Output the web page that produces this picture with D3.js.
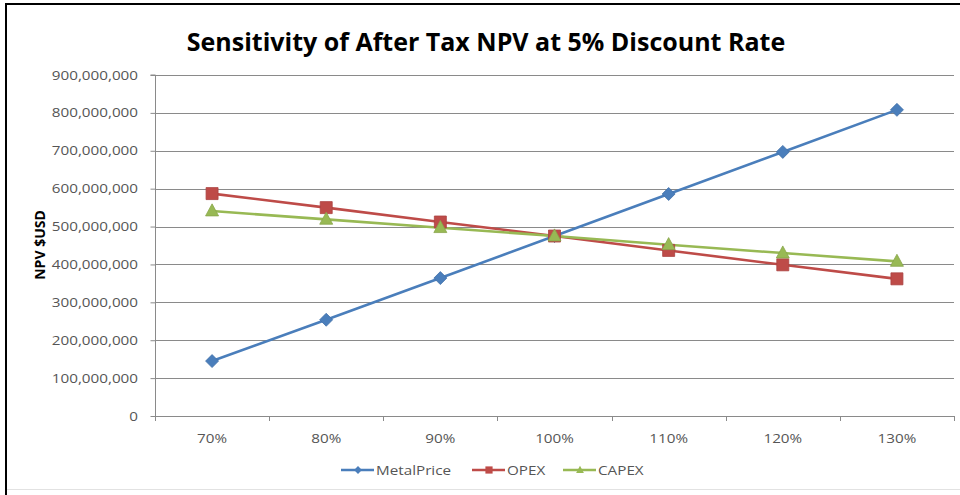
<!DOCTYPE html>
<html><head><meta charset="utf-8">
<script src="https://cdn.jsdelivr.net/npm/d3@7"></script>
<style>body{margin:0;background:#fff}svg{display:block}</style>
</head><body>
<svg id="c" width="960" height="495"></svg>
<script>
const categories = ["70%","80%","90%","100%","110%","120%","130%"];
const metalPrice = [145e6, 254e6, 364e6, 475e6, 586e6, 697e6, 808e6];
const opex = [587e6, 550e6, 512e6, 475e6, 437e6, 399e6, 362e6];
const capex = [541e6, 519e6, 497e6, 475e6, 452e6, 430e6, 408e6];
const seriesNames = ["MetalPrice","OPEX","CAPEX"];
const yTicks = [0,100e6,200e6,300e6,400e6,500e6,600e6,700e6,800e6,900e6];

const svg = d3.select("#c");
const L=155, R=954, T=75, B=416;
const SX = 1.27; // horizontal stretch of small text
const FONT = "'Open Sans', sans-serif";
const x = d3.scaleBand().domain(categories).range([L,R]);
const y = d3.scaleLinear().domain([0,900e6]).range([B,T]);
const colors = ["#4A7EBB","#BE4B48","#98B954"];
const series = [metalPrice, opex, capex];

// frame
svg.append("rect").attr("x",0).attr("y",0).attr("width",960).attr("height",495).attr("fill","#fff");
svg.append("line").attr("x1",5).attr("x2",960).attr("y1",4).attr("y2",4).attr("stroke","#000").attr("stroke-width",2);
svg.append("line").attr("x1",6).attr("x2",6).attr("y1",4).attr("y2",495).attr("stroke","#000").attr("stroke-width",2);
svg.append("line").attr("x1",7).attr("x2",960).attr("y1",489.5).attr("y2",489.5).attr("stroke","#e2e2e2").attr("stroke-width",1);

// title
svg.append("text").attr("x",486).attr("y",51).attr("text-anchor","middle")
  .attr("font-family",FONT).attr("font-weight","bold").attr("font-size",25)
  .attr("fill","#000").text("Sensitivity of After Tax NPV at 5% Discount Rate");

// gridlines
svg.append("g").selectAll("line").data(yTicks.slice(1)).join("line")
  .attr("x1",L).attr("x2",R).attr("y1",d=>Math.round(y(d))+0.5).attr("y2",d=>Math.round(y(d))+0.5)
  .attr("stroke","#8a8a8a").attr("stroke-width",1);

// y axis
const ya = svg.append("g").attr("transform",`translate(${L+0.5},0)`)
  .call(d3.axisLeft(y).tickValues(yTicks).tickSize(5).tickFormat(""));
ya.selectAll("path,line").attr("stroke","#8a8a8a");
ya.select(".domain").attr("d",`M-5,${T}H0V${B}`);
const fmt = d3.format(",");
svg.append("g").selectAll("text").data(yTicks).join("text")
  .attr("transform",d=>`translate(138,${y(d)+4.5}) scale(${SX},1)`)
  .attr("text-anchor","end").attr("font-family",FONT).attr("font-size",12).attr("fill","#555")
  .text(d=>fmt(d));

// x axis
const xa = svg.append("g").attr("transform",`translate(0,${B+0.5})`)
  .call(d3.axisBottom(x).tickSize(0).tickFormat(""));
xa.select(".domain").attr("stroke","#8a8a8a").attr("d",`M${L},0H${R}`);
svg.append("g").selectAll("line").data(d3.range(categories.length+1)).join("line")
  .attr("x1",i=>Math.round(L+i*x.step())+0.5).attr("x2",i=>Math.round(L+i*x.step())+0.5)
  .attr("y1",B).attr("y2",B+5).attr("stroke","#8a8a8a");
svg.append("g").selectAll("text").data(categories).join("text")
  .attr("transform",d=>`translate(${x(d)+x.bandwidth()/2},443) scale(${SX},1)`)
  .attr("text-anchor","middle").attr("font-family",FONT).attr("font-size",12).attr("fill","#555")
  .text(d=>d);

// y label
svg.append("text").attr("transform","translate(45,245) rotate(-90)").attr("text-anchor","middle")
  .attr("font-family",FONT).attr("font-weight","bold").attr("font-size",14)
  .attr("fill","#000").text("NPV $USD");

const cx = d => x(d)+x.bandwidth()/2;
const line = d3.line().x((d,i)=>cx(categories[i])).y(d=>y(d));
const diamond = r => `M0,${-r}L${r},0L0,${r}L${-r},0Z`;
const square = r => `M${-r},${-r}H${r}V${r}H${-r}Z`;
const tri = r => `M0,${-r*1.1}L${r},${r*0.75}L${-r},${r*0.75}Z`;
const shapes = [diamond, square, tri];
const rad = [6.5, 6, 6.5];

series.forEach((s,k)=>{
  svg.append("path").attr("d",line(s)).attr("fill","none").attr("stroke",colors[k]).attr("stroke-width",2.6);
});
series.forEach((s,k)=>{
  svg.append("g").selectAll("path").data(s).join("path")
    .attr("transform",(d,i)=>`translate(${cx(categories[i])},${y(d)})`)
    .attr("d",shapes[k](rad[k]))
    .attr("fill",colors[k]).attr("stroke",d3.color(colors[k]).darker(0.3)).attr("stroke-width",0.8);
});

// legend
const legX = [341, 472, 563];
const lg = svg.append("g");
seriesNames.forEach((n,k)=>{
  const g = lg.append("g").attr("transform",`translate(${legX[k]},470)`);
  g.append("line").attr("x1",0).attr("x2",33).attr("y1",0).attr("y2",0).attr("stroke",colors[k]).attr("stroke-width",2.6);
  g.append("path").attr("transform","translate(17,0)").attr("d",shapes[k](rad[k]*0.6)).attr("fill",colors[k]);
  g.append("text").attr("transform",`translate(35,4.5) scale(${SX},1)`).attr("font-family",FONT).attr("font-size",12)
    .attr("fill","#555").text(n);
});
</script>
</body></html>
